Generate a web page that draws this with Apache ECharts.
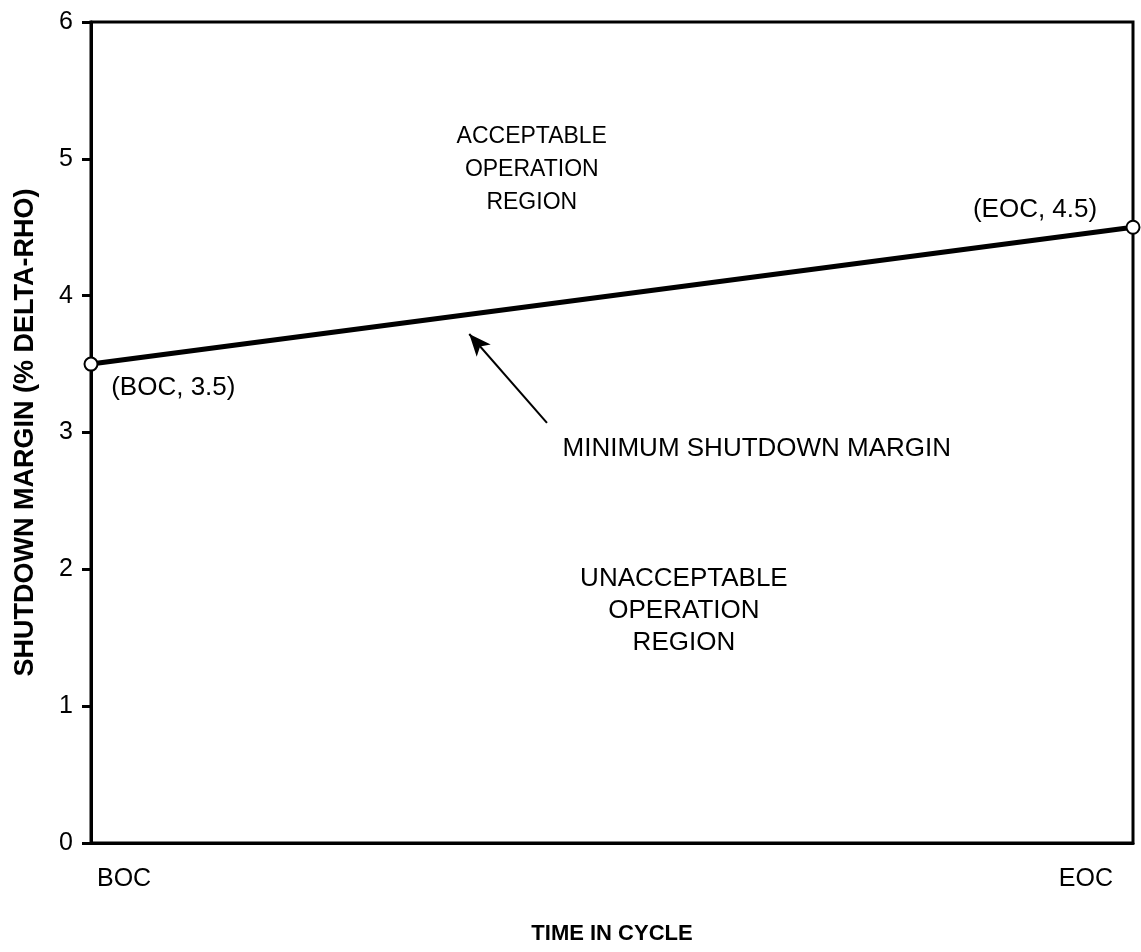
<!DOCTYPE html>
<html>
<head>
<meta charset="utf-8">
<script src="https://cdn.jsdelivr.net/npm/echarts@6/dist/echarts.min.js"></script>
<style>
  html, body { margin: 0; padding: 0; background: #fff; }
  #chart { width: 1141px; height: 952px; }
</style>
</head>
<body>
<div id="chart"></div>
<script>
// x: 0 = BOC, 1 = EOC
const xTickLabels = ['BOC', 'EOC']
const marginLine = [[0, 3.5], [1, 4.5]]

// text notes placed in data coords: x, y, text, font size
const notes = [
  [0.423, 4.92, 'ACCEPTABLE\nOPERATION\nREGION', 23],
  [0.906, 4.63, '(EOC, 4.5)', 26],
  [0.079, 3.33, '(BOC, 3.5)', 26],
  [0.639, 2.88, 'MINIMUM SHUTDOWN MARGIN', 26],
  [0.569, 1.70, 'UNACCEPTABLE\nOPERATION\nREGION', 26]
]
// arrow tail -> tip
const arrow = [[0.4376, 3.07], [0.363, 3.72]]

const font = 'Arial, "Liberation Sans", sans-serif'
const chart = echarts.init(document.getElementById('chart'))

chart.setOption({
  animation: false,
  backgroundColor: '#fff',
  textStyle: { fontFamily: font, color: '#000' },
  grid: {
    left: 91, right: 8, top: 22, bottom: 109,
    show: true, borderColor: '#000', borderWidth: 3, backgroundColor: 'transparent'
  },
  xAxis: {
    type: 'value', min: 0, max: 1, interval: 1,
    name: 'TIME IN CYCLE', nameLocation: 'middle', nameGap: 80,
    nameTextStyle: { fontFamily: font, fontWeight: 'bold', fontSize: 22, color: '#000' },
    axisLine: { lineStyle: { color: '#000', width: 3 } },
    axisTick: { show: false },
    splitLine: { show: false },
    axisLabel: {
      margin: 24, color: '#000', fontFamily: font,
      alignMinLabel: 'left', alignMaxLabel: 'right',
      formatter: v => v === 0 ? '{l|' + xTickLabels[0] + '}' : '{r|' + xTickLabels[1] + '}',
      rich: {
        l: { fontSize: 25, fontFamily: font, color: '#000', padding: [0, 0, 0, 6] },
        r: { fontSize: 25, fontFamily: font, color: '#000', padding: [0, 20, 0, 0] }
      }
    }
  },
  yAxis: {
    type: 'value', min: 0, max: 6, interval: 1,
    name: 'SHUTDOWN MARGIN (% DELTA-RHO)', nameLocation: 'middle', nameGap: 52,
    nameTextStyle: { fontFamily: font, fontWeight: 'bold', fontSize: 27, color: '#000' },
    axisLine: { lineStyle: { color: '#000', width: 3 } },
    axisTick: { length: 9, lineStyle: { color: '#000', width: 3 } },
    splitLine: { show: false },
    axisLabel: { margin: 18, fontSize: 25, color: '#000', fontFamily: font }
  },
  series: [
    {
      type: 'line', data: marginLine, clip: false, z: 5,
      lineStyle: { color: '#000', width: 5 },
      symbol: 'circle', symbolSize: 13,
      itemStyle: { color: '#fff', borderColor: '#000', borderWidth: 2 },
      markLine: {
        silent: true,
        symbol: ['none', 'arrow'], symbolSize: [14, 22],
        lineStyle: { color: '#000', width: 2, type: 'solid' },
        label: { show: false },
        data: [[{ coord: arrow[0] }, { coord: arrow[1] }]]
      }
    },
    {
      type: 'scatter', symbolSize: 1, silent: true,
      itemStyle: { color: 'rgba(0,0,0,0)', opacity: 1 },
      data: notes.map(n => ({
        value: [n[0], n[1]],
        label: {
          formatter: n[2], fontSize: n[3], lineHeight: n[3] === 23 ? 33 : 32
        }
      })),
      label: {
        show: true, position: 'inside',
        fontFamily: font, color: '#000', align: 'center'
      }
    }
  ]
})
</script>
</body>
</html>
